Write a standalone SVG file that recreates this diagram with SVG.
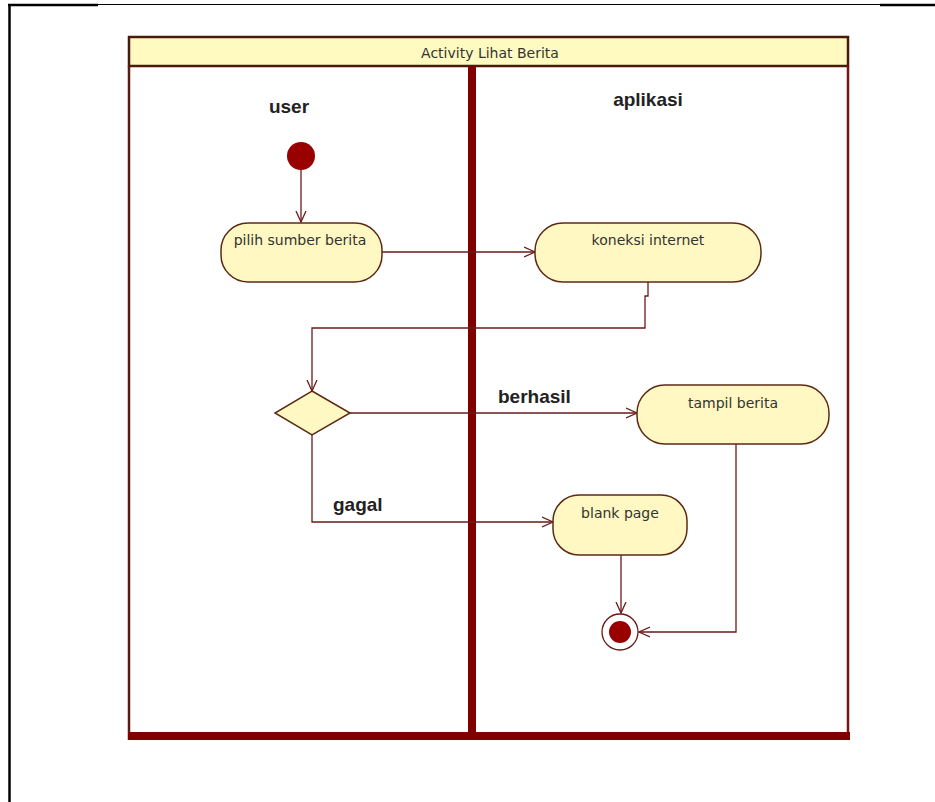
<svg xmlns="http://www.w3.org/2000/svg" width="935" height="802" viewBox="0 0 935 802">
<defs>
<style>
.frame{fill:none;stroke:#5a1a10;stroke-width:2.5}
.lane{font-family:"Liberation Sans",Arial,sans-serif;font-weight:bold;font-size:19px;fill:#222}
.lbl{font-family:"DejaVu Sans",Verdana,sans-serif;font-size:14px;fill:#333}
.act{fill:#FFF8C2;stroke:#5c2a14;stroke-width:1.5}
.edge{fill:none;stroke:#6a1a1a;stroke-width:1.3}
</style>
<marker id="arr" viewBox="0 0 12 12" refX="11" refY="6" markerWidth="12" markerHeight="12" markerUnits="userSpaceOnUse" orient="auto">
<path d="M0,1 L11,6 L0,11" fill="none" stroke="#6a1a1a" stroke-width="1.3"/>
</marker>
</defs>
<rect width="935" height="802" fill="#ffffff"/>
<g id="page-border">
<line x1="8" y1="5" x2="98" y2="5" stroke="#000" stroke-width="2.5"/>
<line x1="98" y1="4.5" x2="880" y2="4.5" stroke="#000" stroke-width="1"/>
<line x1="880" y1="5" x2="935" y2="5" stroke="#000" stroke-width="2.5"/>
<line x1="9.5" y1="4" x2="9.5" y2="802" stroke="#000" stroke-width="2.5"/>
</g>
<g id="swimlanes">
<rect x="129" y="37" width="719" height="29" fill="#FFFBC0" stroke="#4a1a0a" stroke-width="2.5"/>
<text x="490" y="58" text-anchor="middle" class="lbl">Activity Lihat Berita</text>
<line x1="129" y1="66" x2="129" y2="740" stroke="#5a1a10" stroke-width="2.5"/>
<line x1="848" y1="66" x2="848" y2="740" stroke="#7a1515" stroke-width="2.5"/>
<rect x="128" y="732" width="722" height="8" fill="#800000"/>
<rect x="468" y="66" width="8" height="674" fill="#800000"/>
<text x="289" y="113" text-anchor="middle" class="lane">user</text>
<text x="648" y="106" text-anchor="middle" class="lane">aplikasi</text>
</g>
<g id="connectors">
<path class="edge" d="M301,170 V222" marker-end="url(#arr)"/>
<path class="edge" d="M382,252 H535" marker-end="url(#arr)"/>
<path class="edge" d="M648,282 V296 H645 V328 H312 V391" marker-end="url(#arr)"/>
<path class="edge" d="M350,413 H637" marker-end="url(#arr)"/>
<path class="edge" d="M312,435 V522 H553" marker-end="url(#arr)"/>
<path class="edge" d="M621,555 V613" marker-end="url(#arr)"/>
<path class="edge" d="M736,444 V632 H639" marker-end="url(#arr)"/>
<text x="498" y="403" class="lane">berhasil</text>
<text x="333" y="511" class="lane">gagal</text>
</g>
<g id="start">
<circle cx="301" cy="156" r="14" fill="#990000"/>
</g>
<g id="pilih-sumber-berita">
<rect class="act" x="221" y="223" width="161" height="59" rx="27" ry="27"/>
<text x="300" y="245" text-anchor="middle" class="lbl">pilih sumber berita</text>
</g>
<g id="koneksi-internet">
<rect class="act" x="535" y="223" width="226" height="59" rx="28" ry="28"/>
<text x="648" y="245" text-anchor="middle" class="lbl">koneksi internet</text>
</g>
<g id="decision">
<polygon points="312,391 350,413 312,435 275,413" fill="#FFF8C2" stroke="#5c2a14" stroke-width="1.5"/>
</g>
<g id="tampil-berita">
<rect class="act" x="637" y="385" width="192" height="59" rx="28" ry="28"/>
<text x="733" y="408" text-anchor="middle" class="lbl">tampil berita</text>
</g>
<g id="blank-page">
<rect class="act" x="553" y="495" width="134" height="60" rx="26" ry="26"/>
<text x="620" y="518" text-anchor="middle" class="lbl">blank page</text>
</g>
<g id="end">
<circle cx="620" cy="632" r="18" fill="#ffffff" stroke="#6a1a1a" stroke-width="1.3"/>
<circle cx="620" cy="632" r="11" fill="#990000"/>
</g>
</svg>
